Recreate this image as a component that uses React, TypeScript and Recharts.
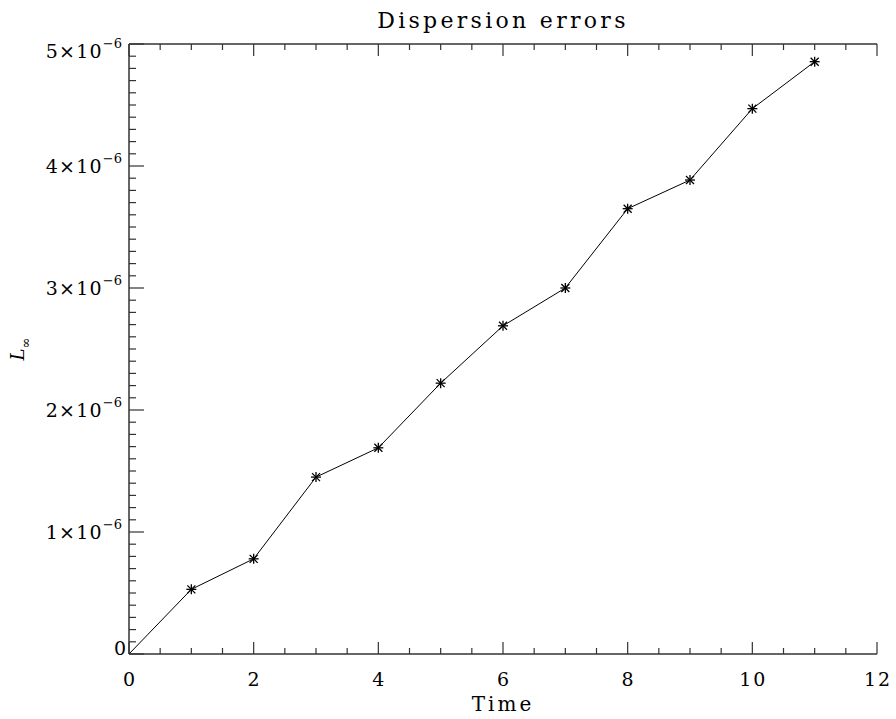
import React from 'react';
import { LineChart, Line, XAxis, YAxis } from 'recharts';

// Time samples and the measured L-infinity dispersion error at each one
const times = [0, 1, 2, 3, 4, 5, 6, 7, 8, 9, 10, 11];
const errors = [
  0, 0.53e-6, 0.78e-6, 1.45e-6, 1.69e-6, 2.22e-6, 2.69e-6, 3.0e-6, 3.65e-6, 3.885e-6, 4.47e-6,
  4.855e-6,
];

// Axis ticks
const xMajorTicks = [0, 2, 4, 6, 8, 10, 12];
const yMajorTicks = [0, 1e-6, 2e-6, 3e-6, 4e-6, 5e-6];
const yTickMantissas = ['0', '1', '2', '3', '4', '5'];
const yTickExponent = '−6';
const xMinorDivisions = 4;
const yMinorDivisions = 10;

const titleText = 'Dispersion errors';
const xTitle = 'Time';

const FONT = '"DejaVu Serif", serif';
const AXIS_COLOR = '#333';

// Subdivide each major interval into evenly spaced minor ticks
function withMinor(majors: number[], parts: number, scale: number): number[] {
  const out: number[] = [];
  for (let i = 0; i < majors.length - 1; i++) {
    const a = Math.round(majors[i] * scale);
    const b = Math.round(majors[i + 1] * scale);
    for (let k = 0; k < parts; k++) {
      out.push((a * parts + (b - a) * k) / (parts * scale));
    }
  }
  out.push(majors[majors.length - 1]);
  return out;
}

const xAllTicks = withMinor(xMajorTicks, xMinorDivisions, 1);
const yAllTicks = withMinor(yMajorTicks, yMinorDivisions, 1e6);

const data = times.map((t, i) => ({ time: t, err: errors[i] }));

const majorIndex = (list: number[], v: number, unit: number) =>
  list.findIndex((m) => Math.abs(m - v) < unit * 1e-6);

function XTick(props: any) {
  const { x, y, payload, side } = props;
  const v = payload.value;
  const idx = majorIndex(xMajorTicks, v, 1);
  const len = idx >= 0 ? 12 : 6;
  const dir = side === 'bottom' ? -1 : 1;
  return (
    <g>
      <line x1={x} x2={x} y1={y} y2={y + dir * len} stroke={AXIS_COLOR} strokeWidth={1.2} />
      {side === 'bottom' && idx >= 0 && (
        <text
          x={x + 1}
          y={y + 32}
          textAnchor="middle"
          fontFamily={FONT}
          fontSize={19}
          letterSpacing={2}
          fill="#000"
        >
          {String(v)}
        </text>
      )}
    </g>
  );
}

function YTick(props: any) {
  const { x, y, payload, side } = props;
  const v = payload.value;
  const idx = majorIndex(yMajorTicks, v, 1e-6);
  const len = idx >= 0 ? 15 : 7;
  const dir = side === 'left' ? 1 : -1;
  let label = null;
  if (side === 'left' && idx >= 0) {
    // edge labels are nudged inward so they stay beside the frame
    const shift = idx === 0 ? -6 : idx === yMajorTicks.length - 1 ? 7 : 0;
    const base = y + 7 + shift;
    label =
      idx === 0 ? (
        <text x={x - 3} y={base} textAnchor="end" fontFamily={FONT} fontSize={19} fill="#000">
          {yTickMantissas[idx]}
        </text>
      ) : (
        <text x={x - 7} y={base} textAnchor="end" fontFamily={FONT} fontSize={19} fill="#000">
          <tspan letterSpacing={1.2}>{`${yTickMantissas[idx]}×10`}</tspan>
          <tspan fontSize={13} dy={-10}>
            {yTickExponent}
          </tspan>
        </text>
      );
  }
  return (
    <g>
      <line x1={x} x2={x + dir * len} y1={y} y2={y} stroke={AXIS_COLOR} strokeWidth={1.2} />
      {label}
    </g>
  );
}

// Asterisk marker (the point at the origin sits on the frame corner and is left bare)
function Asterisk(props: any) {
  const { cx, cy, index } = props;
  if (index === 0 || cx == null || cy == null) return <g key={`s-${index}`} />;
  const r = 5;
  const d = r * 0.8;
  return (
    <g key={`s-${index}`} stroke="#000" strokeWidth={1.3}>
      <line x1={cx - r} x2={cx + r} y1={cy} y2={cy} />
      <line x1={cx} x2={cx} y1={cy - r} y2={cy + r} />
      <line x1={cx - d} x2={cx + d} y1={cy - d} y2={cy + d} />
      <line x1={cx - d} x2={cx + d} y1={cy + d} y2={cy - d} />
    </g>
  );
}

function TitleLabel(props: any) {
  const vb = props.viewBox || {};
  const cx = vb.x + vb.width / 2;
  return (
    <text
      x={cx}
      y={28}
      textAnchor="middle"
      fontFamily={FONT}
      fontSize={22}
      letterSpacing={3.3}
      fill="#000"
    >
      {titleText}
    </text>
  );
}

function TimeLabel(props: any) {
  const vb = props.viewBox || {};
  const cx = vb.x + vb.width / 2;
  return (
    <text
      x={cx}
      y={vb.y + 57}
      textAnchor="middle"
      fontFamily={FONT}
      fontSize={20}
      letterSpacing={3}
      fill="#000"
    >
      {xTitle}
    </text>
  );
}

function LinfLabel(props: any) {
  const vb = props.viewBox || {};
  const cx = 24;
  const cy = vb.y + vb.height / 2;
  return (
    <text
      x={cx}
      y={cy}
      transform={`rotate(-90, ${cx}, ${cy})`}
      textAnchor="middle"
      fontFamily={FONT}
      fill="#000"
    >
      <tspan fontSize={18} fontStyle="italic">
        L
      </tspan>
      <tspan fontSize={13} dy={6}>
        ∞
      </tspan>
    </text>
  );
}

export default function App() {
  return (
    <div style={{ position: 'absolute', left: 0, top: 0, width: 896, height: 719, background: '#fff' }}>
      <LineChart
        width={896}
        height={719}
        data={data}
        margin={{ top: 0, right: 19, bottom: 0, left: 0 }}
      >
        <XAxis
          xAxisId="b"
          dataKey="time"
          type="number"
          domain={[0, 12]}
          ticks={xAllTicks}
          interval={0}
          height={65}
          tickSize={0}
          tickMargin={0}
          tickLine={false}
          axisLine={{ stroke: AXIS_COLOR, strokeWidth: 1.5 }}
          tick={<XTick side="bottom" />}
          label={<TimeLabel />}
        />
        <XAxis
          xAxisId="t"
          orientation="top"
          dataKey="time"
          type="number"
          domain={[0, 12]}
          ticks={xAllTicks}
          interval={0}
          height={44}
          tickSize={0}
          tickMargin={0}
          tickLine={false}
          axisLine={{ stroke: AXIS_COLOR, strokeWidth: 1.5 }}
          tick={<XTick side="top" />}
          label={<TitleLabel />}
        />
        <YAxis
          yAxisId="l"
          type="number"
          domain={[0, 5e-6]}
          ticks={yAllTicks}
          interval={0}
          width={129}
          tickSize={0}
          tickMargin={0}
          tickLine={false}
          axisLine={{ stroke: AXIS_COLOR, strokeWidth: 1.5 }}
          tick={<YTick side="left" />}
          label={<LinfLabel />}
        />
        <YAxis
          yAxisId="r"
          orientation="right"
          type="number"
          domain={[0, 5e-6]}
          ticks={yAllTicks}
          interval={0}
          width={0}
          tickSize={0}
          tickMargin={0}
          tickLine={false}
          axisLine={{ stroke: AXIS_COLOR, strokeWidth: 1.5 }}
          tick={<YTick side="right" />}
        />
        <Line
          xAxisId="t"
          yAxisId="r"
          dataKey="err"
          stroke="none"
          dot={false}
          activeDot={false}
          isAnimationActive={false}
        />
        <Line
          xAxisId="b"
          yAxisId="l"
          dataKey="err"
          type="linear"
          stroke="#000"
          strokeWidth={1}
          dot={<Asterisk />}
          activeDot={false}
          isAnimationActive={false}
        />
      </LineChart>
    </div>
  );
}
